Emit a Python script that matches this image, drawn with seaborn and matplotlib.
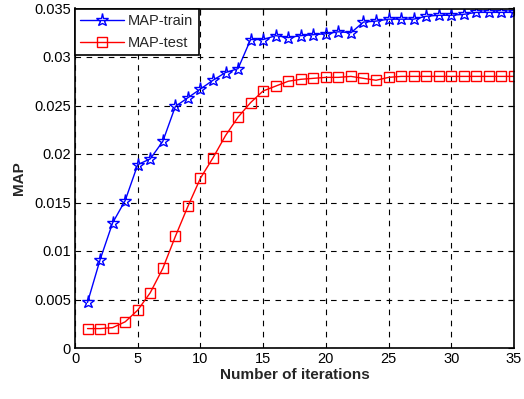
import matplotlib
matplotlib.use("Agg")
import matplotlib.pyplot as plt
import seaborn as sns
import pandas as pd
import numpy as np

iterations = list(range(1, 36))
map_train = [0.0047, 0.0091, 0.0129, 0.0152, 0.0189, 0.0195, 0.0213, 0.0249, 0.0258, 0.0267,
             0.0276, 0.0284, 0.0288, 0.0318, 0.0318, 0.0322, 0.0320, 0.0322, 0.0323, 0.0324,
             0.0326, 0.0325, 0.0336, 0.0337, 0.0339, 0.0339, 0.0339, 0.0342, 0.0343, 0.0343,
             0.0344, 0.0346, 0.0346, 0.0346, 0.0346]
map_test = [0.0020, 0.0020, 0.0021, 0.0027, 0.0039, 0.0057, 0.0082, 0.0115, 0.0146, 0.0175,
            0.0196, 0.0219, 0.0238, 0.0253, 0.0265, 0.0270, 0.0275, 0.0277, 0.0278, 0.0279,
            0.0279, 0.0280, 0.0278, 0.0276, 0.0279, 0.0280, 0.0280, 0.0280, 0.0280, 0.0280,
            0.0280, 0.0280, 0.0280, 0.0280, 0.0280]
x_ticks = [0, 5, 10, 15, 20, 25, 30, 35]
y_ticks = [0, 0.005, 0.01, 0.015, 0.02, 0.025, 0.03, 0.035]
y_tick_labels = ["0", "0.005", "0.01", "0.015", "0.02", "0.025", "0.03", "0.035"]

sns.set_style("white")
plt.rcParams['font.family'] = ['Liberation Sans', 'DejaVu Sans']

df = pd.DataFrame({"iter": iterations, "train": map_train, "test": map_test})

fig = plt.figure(figsize=(5.24, 3.99), dpi=100)
ax = fig.add_axes([75/524, 1-348/399, (514-75)/524, (348-8.5)/399])

sns.lineplot(data=df, x="iter", y="train", ax=ax, color="#0000ff", lw=1,
             marker="*", markersize=9.5, markerfacecolor="none", markeredgecolor="#0000ff",
             markeredgewidth=1, label="MAP-train")
sns.lineplot(data=df, x="iter", y="test", ax=ax, color="#ff0000", lw=1,
             marker="s", markersize=7, markerfacecolor="none", markeredgecolor="#ff0000",
             markeredgewidth=1, label="MAP-test")

ax.set_xlim(0, 35)
ax.set_ylim(0, 0.035)
ax.set_xticks(x_ticks)
ax.set_xticklabels([str(t) for t in x_ticks])
ax.set_yticks(y_ticks)
ax.set_yticklabels(y_tick_labels)
ax.tick_params(direction="in", length=4, width=0.8, top=True, right=True,
               labelsize=10.5, colors="black", pad=3)
ax.grid(True, color="black", linestyle=(0, (5, 5)), linewidth=0.8)
for s in ax.spines.values():
    s.set_color("black")
    s.set_linewidth(1.2)
ax.set_xlabel("Number of iterations", fontsize=11, fontweight="bold", labelpad=1)
ax.set_ylabel("MAP", fontsize=11, fontweight="bold", labelpad=6)

leg = ax.legend(loc="upper left", borderaxespad=0, fancybox=False, framealpha=1,
                edgecolor="black", fontsize=10.5, handlelength=3.0, borderpad=0.35,
                labelspacing=0.55, handletextpad=0.3)
leg.get_frame().set_linewidth(1.2)

fig.savefig("out.png", dpi=100)
